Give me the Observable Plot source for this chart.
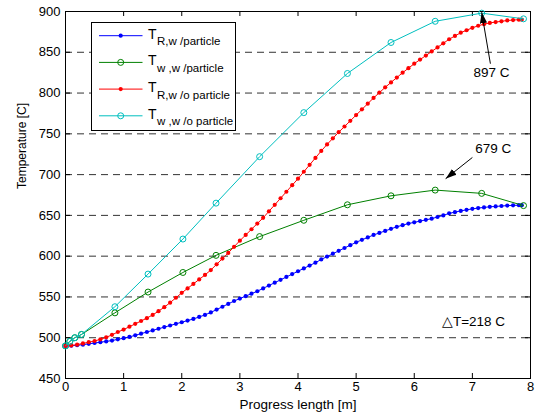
<!DOCTYPE html>
<html>
<head>
<meta charset="utf-8">
<script src="https://cdn.jsdelivr.net/npm/d3@7"></script>
<script src="https://cdn.jsdelivr.net/npm/@observablehq/plot@0.6"></script>
<style>
  html, body { margin: 0; padding: 0; background: white; }
  #chart { width: 536px; height: 418px; }
</style>
</head>
<body>
<div id="chart"></div>
<script>
// ---- data ----
const xTicks = [0, 1, 2, 3, 4, 5, 6, 7, 8];
const yTicks = [450, 500, 550, 600, 650, 700, 750, 800, 850, 900];
const gridY = [500, 550, 600, 650, 700, 750, 800, 850];

// dense grid (progress length, m) for the R-series
const xDense = [0,0.1,0.2,0.3,0.4,0.5,0.6,0.7,0.8,0.9,1.0,1.1,1.2,1.3,1.4,1.5,1.6,1.7,1.8,1.9,
  2.0,2.1,2.2,2.3,2.4,2.5,2.6,2.7,2.8,2.9,3.0,3.1,3.2,3.3,3.4,3.5,3.6,3.7,3.8,3.9,
  4.0,4.1,4.2,4.3,4.4,4.5,4.6,4.7,4.8,4.9,5.0,5.1,5.2,5.3,5.4,5.5,5.6,5.7,5.8,5.9,
  6.0,6.1,6.2,6.3,6.4,6.5,6.6,6.7,6.8,6.9,7.0,7.1,7.2,7.3,7.4,7.5,7.6,7.7,7.8,7.85];

const tRWithParticle = [490,490.3,490.8,491.5,492.5,493.5,494.5,495.5,496.5,498,
  499.5,501,503,505,507,509,511,513,515,517,
  519,521,523,525.5,528,531,534.5,538,541.5,545,
  548,551,554,557,560.5,564,567.5,571,574.5,578,
  581.5,585,588.5,592,596,599.5,603,606.5,610,613.5,
  617,620,623,626,628.5,631,633.5,636,638,640,
  641.5,643,644.5,646,648,650,652.5,654,655.5,656.8,
  658,659,659.8,660.5,661,661.5,662,662.3,662.5,662.5];

const tRWithoutParticle = [490,490.5,491.5,493,494.5,496,498,500.5,503.5,507,
  510,513.5,517,520.5,524,528,532.5,537.5,543,549,
  555,560.5,566,571.5,577,583,590,597,604,611.5,
  619,626,633,640,647,655,663,671,679,687,
  695,703.5,712,720.5,729,737,744.5,752,759,766,
  773,780,787,794,800.5,807,813,819,825,830.5,
  836,841,846,851,856,861,866,870,874,877,
  880,882.5,884.5,886,887,888,889,889.5,890,890];

// sparse grid for the wall series
const xWall = [0, 0.074, 0.16, 0.275, 0.85, 1.42, 2.02, 2.59, 3.34, 4.1, 4.85, 5.6, 6.36, 7.16, 7.88];
const tWWithParticle = [490, 495.5, 500, 504, 530.5, 556, 580, 601, 624, 644, 663, 674, 681, 677, 662];
const tWWithoutParticle = [490, 495.5, 500, 504, 538, 578, 621, 665, 722, 776, 824, 862, 888, 898, 891];

const seriesNames = ["R,w /particle", "w ,w /particle", "R,w /o particle", "w ,w /o particle"];
const seriesColors = ["#0000FF", "#008000", "#FF0000", "#00BFBF"];

const annText = ["897 C", "679 C", "\u25B3T=218 C"];
const annX = [7.33, 7.36, 7.02];
const annY = [825, 732, 520];
const arrowX1 = [7.31, 7.0];
const arrowY1 = [836, 721];
const arrowX2 = [7.16, 6.54];
const arrowY2 = [899, 695];

// ---- tables ----
const dense = (ys) => xDense.map((x, i) => ({x, y: ys[i]}));
const wall = (ys) => xWall.map((x, i) => ({x, y: ys[i]}));
const blue = dense(tRWithParticle);
const red = dense(tRWithoutParticle);
const green = wall(tWWithParticle);
const cyan = wall(tWWithoutParticle);
const anns = annText.map((t, i) => ({t, x: annX[i], y: annY[i]}));
const arrows = arrowX1.map((x1, i) => ({x1, y1: arrowY1[i], x2: arrowX2[i], y2: arrowY2[i]}));

function headMarker() {
  const m = d3.create("svg:marker")
    .attr("viewBox", "-11 -4 12 8")
    .attr("markerWidth", 12).attr("markerHeight", 8)
    .attr("refX", 0).attr("refY", 0)
    .attr("orient", "auto")
    .attr("markerUnits", "userSpaceOnUse")
    .attr("fill", "black").attr("stroke", "none");
  m.append("path").attr("d", "M-11,-3.6L0,0L-11,3.6Z");
  return m.node();
}

const W = 536, H = 418, mL = 65, mR = 6, mT = 11, mB = 40;
const fw = W - mL - mR, fh = H - mT - mB;

const chart = Plot.plot({
  width: W, height: H,
  marginLeft: mL, marginRight: mR, marginTop: mT, marginBottom: mB,
  style: {fontFamily: "'Liberation Sans', Arial, sans-serif", fontSize: "13px", color: "black", background: "white"},
  x: {domain: [0, 8]},
  y: {domain: [450, 900]},
  marks: [
    Plot.ruleY(gridY, {stroke: "#333", strokeWidth: 1, strokeDasharray: "7,5"}),
    Plot.frame({stroke: "black", strokeWidth: 1}),
    // inward ticks on all four sides
    Plot.tickX(xTicks, {x: d => d, insetTop: fh - 5, stroke: "black"}),
    Plot.tickX(xTicks, {x: d => d, insetBottom: fh - 5, stroke: "black"}),
    Plot.tickY(yTicks, {y: d => d, insetRight: fw - 5, stroke: "black"}),
    Plot.tickY(yTicks, {y: d => d, insetLeft: fw - 5, stroke: "black"}),
    Plot.axisX(xTicks, {tickSize: 0, tickPadding: 3, label: null, fill: "black", fontSize: 13}),
    Plot.axisY(yTicks, {tickSize: 0, tickPadding: 5, label: null, fill: "black", fontSize: 13}),
    Plot.text(["Progress length [m]"], {frameAnchor: "bottom", dy: 30, fontSize: 13.5, fill: "black"}),
    Plot.text(["Temperature [C]"], {frameAnchor: "left", rotate: -90, dx: -43, dy: -6, fontSize: 12, fill: "black"}),
    // series
    Plot.line(blue, {x: "x", y: "y", stroke: seriesColors[0], strokeWidth: 1}),
    Plot.dot(blue, {x: "x", y: "y", r: 2.1, fill: seriesColors[0], stroke: "none"}),
    Plot.line(green, {x: "x", y: "y", stroke: seriesColors[1], strokeWidth: 1}),
    Plot.dot(green, {x: "x", y: "y", r: 3, fill: "none", stroke: seriesColors[1], strokeWidth: 1}),
    Plot.line(red, {x: "x", y: "y", stroke: seriesColors[2], strokeWidth: 1}),
    Plot.dot(red, {x: "x", y: "y", r: 2.1, fill: seriesColors[2], stroke: "none"}),
    Plot.line(cyan, {x: "x", y: "y", stroke: seriesColors[3], strokeWidth: 1}),
    Plot.dot(cyan, {x: "x", y: "y", r: 3, fill: "none", stroke: seriesColors[3], strokeWidth: 1}),
    // annotations
    Plot.link(arrows, {x1: "x1", y1: "y1", x2: "x2", y2: "y2", stroke: "black", strokeWidth: 1, markerEnd: headMarker}),
    Plot.text(anns, {x: "x", y: "y", text: "t", fontSize: 13.5, fill: "black"})
  ]
});

// legend box (drawn on top of the plot area)
const svg = d3.select(chart);
const lg = svg.append("g").attr("font-family", "'Liberation Sans', Arial, sans-serif").attr("text-anchor", "start");
lg.append("rect").attr("x", 91.5).attr("y", 22.5).attr("width", 144).attr("height", 108)
  .attr("fill", "white").attr("stroke", "black").attr("stroke-width", 1);
seriesNames.forEach((name, i) => {
  const cy = 35.7 + i * 26.7;
  const c = seriesColors[i];
  lg.append("line").attr("x1", 99).attr("x2", 142.5).attr("y1", cy).attr("y2", cy)
    .attr("stroke", c).attr("stroke-width", 1);
  if (i % 2 === 0) {
    lg.append("circle").attr("cx", 120.7).attr("cy", cy).attr("r", 2.1).attr("fill", c);
  } else {
    lg.append("circle").attr("cx", 120.7).attr("cy", cy).attr("r", 3).attr("fill", "none").attr("stroke", c);
  }
  const t = lg.append("text").attr("x", 148).attr("y", cy + 2.8).attr("fill", "black").attr("text-anchor", "start");
  t.append("tspan").attr("font-size", 14).text("T");
  t.append("tspan").attr("font-size", 11.5).attr("dy", 6.6).attr("dx", 0.5).text(name);
});

document.getElementById("chart").appendChild(chart);
</script>
</body>
</html>
